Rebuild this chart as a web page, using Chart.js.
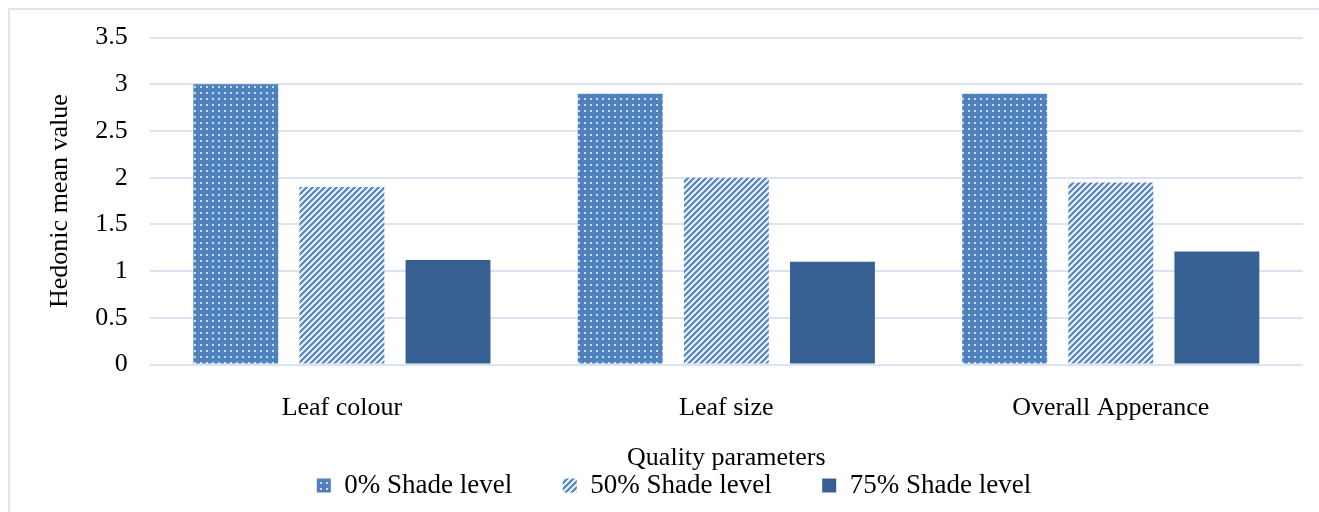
<!DOCTYPE html>
<html>
<head>
<meta charset="utf-8">
<script src="https://cdn.jsdelivr.net/npm/chart.js@4/dist/chart.umd.min.js"></script>
<style>
  html, body { margin: 0; padding: 0; background: #fff; }
  #wrap { position: relative; width: 1319px; height: 512px; overflow: hidden; }
  #frame { position: absolute; left: 8px; top: 8px; width: 1320px; height: 520px;
           border-top: 2px solid #dae5f3; border-left: 2px solid #dae5f3; }
  #box { position: absolute; left: 0; top: 0; width: 1319px; height: 512px; }
</style>
</head>
<body>
<div id="wrap">
  <div id="frame"></div>
  <div id="box"><canvas id="chart"></canvas></div>
</div>
<script>
const categories = ["Leaf colour", "Leaf size", "Overall Apperance"];
const seriesNames = ["0% Shade level", "50% Shade level", "75% Shade level"];
const shade0 = [3.0, 2.9, 2.9];
const shade50 = [1.9, 2.0, 1.95];
const shade75 = [1.12, 1.1, 1.21];

const blue = "#4f81bd";
const darkBlue = "#376092";

// dotted fill
function dotPattern() {
    const c = document.createElement("canvas");
    c.width = 6; c.height = 6;
    const g = c.getContext("2d");
    g.fillStyle = blue;
    g.fillRect(0, 0, 6, 6);
    g.fillStyle = "#c9d9ee";
    g.fillRect(2, 2, 2, 2);
    return g.createPattern(c, "repeat");
}

// diagonal stripes
function stripePattern() {
    const c = document.createElement("canvas");
    c.width = 6; c.height = 6;
    const g = c.getContext("2d");
    for (let x = 0; x < 6; x++) {
        for (let y = 0; y < 6; y++) {
            g.fillStyle = ((x + y) % 6 < 3) ? "#5a89c3" : "#e4ecf7";
            g.fillRect(x, y, 1, 1);
        }
    }
    return g.createPattern(c, "repeat");
}

const font = "'Liberation Serif', 'Times New Roman', serif";
const gap = "\u2002\u2002\u2002";

new Chart(document.getElementById("chart"), {
    type: "bar",
    data: {
        labels: categories,
        datasets: [
            { label: seriesNames[0], data: shade0, backgroundColor: dotPattern() },
            { label: seriesNames[1], data: shade50, backgroundColor: stripePattern() },
            { label: seriesNames[2], data: shade75, backgroundColor: darkBlue }
        ]
    },
    options: {
        responsive: true,
        maintainAspectRatio: false,
        animation: false,
        datasets: {
            bar: { categoryPercentage: 0.828, barPercentage: 0.8 }
        },
        layout: { padding: { top: 25, right: 16, left: 45, bottom: 3 } },
        plugins: {
            tooltip: { enabled: false },
            legend: {
                position: "bottom",
                labels: {
                    font: { family: font, size: 27 },
                    color: "#000",
                    boxWidth: 14,
                    boxHeight: 14,
                    padding: 10,
                    generateLabels(chart) {
                        const items = Chart.defaults.plugins.legend.labels.generateLabels(chart);
                        items.forEach((it, i) => {
                            if (i < items.length - 1) it.text = it.text + gap;
                        });
                        return items;
                    }
                }
            }
        },
        scales: {
            x: {
                grid: { display: false },
                border: { display: false },
                ticks: { font: { family: font, size: 26 }, color: "#000", padding: 20 },
                title: {
                    display: true,
                    text: "Quality parameters",
                    font: { family: font, size: 26 },
                    color: "#000",
                    padding: { top: -1, bottom: -12 }
                }
            },
            y: {
                min: 0,
                max: 3.5,
                ticks: {
                    stepSize: 0.5,
                    font: { family: font, size: 26 },
                    color: "#000",
                    padding: 22,
                    callback: v => String(v)
                },
                grid: { color: "#d9e3f2", lineWidth: 2, drawTicks: false },
                border: { display: false },
                title: {
                    display: true,
                    text: "Hedonic mean value",
                    font: { family: font, size: 26 },
                    color: "#000",
                    padding: { top: 0, bottom: -3 }
                }
            }
        }
    }
});
</script>
</body>
</html>
